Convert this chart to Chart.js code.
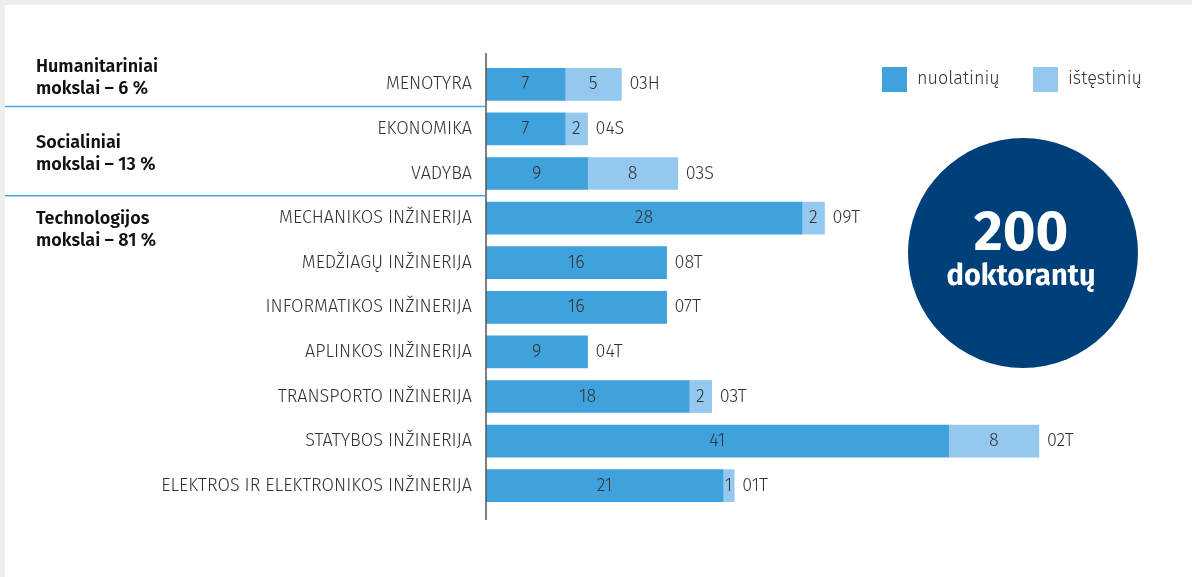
<!DOCTYPE html>
<html>
<head>
<meta charset="utf-8">
<script src="https://cdn.jsdelivr.net/npm/chart.js@4"></script>
<style>
  html, body { margin: 0; padding: 0; background: #eeeeee; }
  #wrap { width: 1192px; height: 577px; }
</style>
</head>
<body>
<div id="wrap"><canvas id="myChart" width="1192" height="577"></canvas></div>
<script>
const categories = [
  "MENOTYRA", "EKONOMIKA", "VADYBA", "MECHANIKOS INŽINERIJA",
  "MEDŽIAGŲ INŽINERIJA", "INFORMATIKOS INŽINERIJA", "APLINKOS INŽINERIJA",
  "TRANSPORTO INŽINERIJA", "STATYBOS INŽINERIJA", "ELEKTROS IR ELEKTRONIKOS INŽINERIJA"
];
const fullTime = [7, 7, 9, 28, 16, 16, 9, 18, 41, 21];
const extended = [5, 2, 8, 2, 0, 0, 0, 2, 8, 1];
const codes = ["03H", "04S", "03S", "09T", "08T", "07T", "04T", "03T", "02T", "01T"];
const seriesNames = ["nuolatinių", "ištęstinių"];
const groups = [
  { lines: ["Humanitariniai", "mokslai – 6 %"], first: 0, last: 0 },
  { lines: ["Socialiniai", "mokslai – 13 %"], first: 1, last: 2 },
  { lines: ["Technologijos", "mokslai – 81 %"], first: 3, last: 3 }
];
const totalLabel = ["200", "doktorantų"];

const FONT = "'Fira Sans', Roboto, 'Noto Sans', sans-serif";
const colors = ["#40a2dd", "#95c8ef"];

// background, group labels, value labels, codes, legend, circle
const decor = {
  id: "decor",
  beforeDraw(chart) {
    const c = chart.ctx;
    c.save();
    c.fillStyle = "#eeeeee";
    c.fillRect(0, 0, chart.width, chart.height);
    c.fillStyle = "#ffffff";
    c.fillRect(5, 5, chart.width - 5, chart.height - 5);
    c.restore();
  },
  afterDraw(chart) {
    const c = chart.ctx;
    const area = chart.chartArea;
    const y = chart.scales.y;
    c.save();

    // axis line
    c.strokeStyle = "#555555";
    c.lineWidth = 1.5;
    c.beginPath();
    c.moveTo(area.left, 53);
    c.lineTo(area.left, 520);
    c.stroke();

    // group separators and labels
    const half = (y.getPixelForValue(1) - y.getPixelForValue(0)) / 2;
    c.strokeStyle = "#4aa8e0";
    c.lineWidth = 1.5;
    groups.forEach((g, i) => {
      if (i > 0) {
        const sy = y.getPixelForValue(g.first) - half;
        c.beginPath();
        c.moveTo(5, sy);
        c.lineTo(area.left, sy);
        c.stroke();
      }
    });
    c.fillStyle = "#111111";
    c.font = "600 18px " + FONT;
    c.textAlign = "left";
    c.textBaseline = "middle";
    const groupY = [67, 143, 219];
    groups.forEach((g, i) => {
      c.fillText(g.lines[0], 36, groupY[i]);
      c.fillText(g.lines[1], 36, groupY[i] + 22);
    });

    // value labels
    c.font = "300 18px " + FONT;
    c.fillStyle = "#333333";
    c.textAlign = "center";
    chart.data.datasets.forEach((ds, di) => {
      const meta = chart.getDatasetMeta(di);
      meta.data.forEach((el, i) => {
        if (!ds.data[i]) return;
        const p = el.getCenterPoint();
        c.fillText(String(ds.data[i]), p.x, p.y);
      });
    });

    // codes after bars
    c.textAlign = "left";
    const lastMeta = chart.getDatasetMeta(1);
    lastMeta.data.forEach((el, i) => {
      c.fillText(codes[i], el.x + 8, el.y);
    });

    // legend
    const legX = [882, 1033];
    c.font = "300 18px " + FONT;
    seriesNames.forEach((n, i) => {
      c.fillStyle = colors[i];
      c.fillRect(legX[i], 67, 25, 25);
      c.fillStyle = "#333333";
      c.fillText(n, legX[i] + 35, 79);
    });

    // total circle
    c.fillStyle = "#00407a";
    c.beginPath();
    c.arc(1023, 253, 115, 0, Math.PI * 2);
    c.fill();
    c.fillStyle = "#ffffff";
    c.textAlign = "center";
    c.font = "bold 56px " + FONT;
    c.fillText(totalLabel[0], 1021, 234);
    c.font = "bold 29px " + FONT;
    c.fillText(totalLabel[1], 1021, 277);

    c.restore();
  }
};

const ctx = document.getElementById("myChart");
const chart = new Chart(ctx, {
  type: "bar",
  data: {
    labels: categories,
    datasets: [
      { label: seriesNames[0], data: fullTime, backgroundColor: colors[0] },
      { label: seriesNames[1], data: extended, backgroundColor: colors[1] }
    ]
  },
  options: {
    indexAxis: "y",
    responsive: false,
    animation: false,
    layout: { padding: { top: 62, bottom: 69, right: 29, left: 0 } },
    datasets: { bar: { barThickness: 32 } },
    plugins: { legend: { display: false }, tooltip: { enabled: false } },
    scales: {
      x: { stacked: true, min: 0, max: 60, display: false },
      y: {
        stacked: true,
        grid: { display: false, drawTicks: false },
        border: { display: false },
        ticks: { padding: 14, color: "#333333", font: { family: FONT, size: 18, weight: "300" } },
        afterFit(scale) { scale.width = 486; }
      }
    }
  },
  plugins: [decor]
});
</script>
</body>
</html>
